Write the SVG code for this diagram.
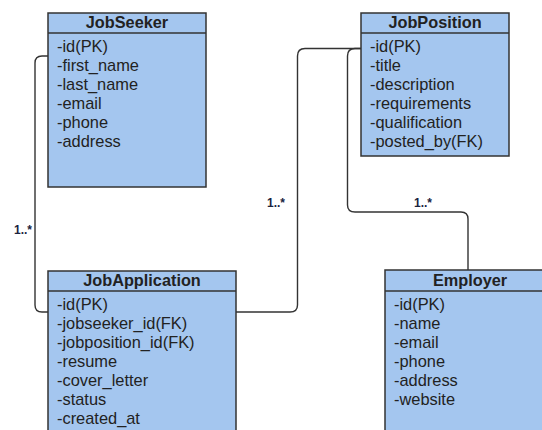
<svg xmlns="http://www.w3.org/2000/svg" width="542" height="430" viewBox="0 0 542 430">
<style>
.box{fill:#a4c6ef;stroke:#333;stroke-width:1.5}
.sep{stroke:#333;stroke-width:1.5}
.title{font-family:"Liberation Sans",Arial,sans-serif;font-size:16.3px;font-weight:bold;fill:#222;text-anchor:middle}
.row{font-family:"Liberation Sans",Arial,sans-serif;font-size:16.4px;fill:#222}
.conn{fill:none;stroke:#333;stroke-width:1.4}
.lbl{font-family:"Liberation Sans",Arial,sans-serif;font-size:12px;font-weight:bold;fill:#1a2340;text-anchor:middle}
</style>
<rect width="542" height="430" fill="#fff"/>
<g id="connectors">
<path class="conn" d="M48,56 H42 Q35,56 35,63 V305 Q35,312 42,312 H48"/>
<path class="conn" d="M236,312 H290 Q297.5,312 297.5,305 V56 Q297.5,48.5 305,48.5 H361"/>
<path class="conn" d="M361,48.5 H355 Q347.5,48.5 347.5,56 V205 Q347.5,212 355,212 H461 Q468,212 468,219 V270"/>
<text class="lbl" x="23" y="234">1..*</text>
<text class="lbl" x="276" y="207">1..*</text>
<text class="lbl" x="423" y="207">1..*</text>
</g>
<g id="JobSeeker">
<rect class="box" x="48" y="13" width="158" height="174"/>
<line class="sep" x1="48" y1="33" x2="206" y2="33"/>
<text class="title" x="127" y="28">JobSeeker</text>
<text class="row" x="57" y="52">-id(PK)</text>
<text class="row" x="57" y="71">-first_name</text>
<text class="row" x="57" y="90">-last_name</text>
<text class="row" x="57" y="109">-email</text>
<text class="row" x="57" y="128">-phone</text>
<text class="row" x="57" y="147">-address</text>
</g>
<g id="JobPosition">
<rect class="box" x="361" y="13" width="148" height="143"/>
<line class="sep" x1="361" y1="33" x2="509" y2="33"/>
<text class="title" x="435" y="28">JobPosition</text>
<text class="row" x="370" y="52">-id(PK)</text>
<text class="row" x="370" y="71">-title</text>
<text class="row" x="370" y="90">-description</text>
<text class="row" x="370" y="109">-requirements</text>
<text class="row" x="370" y="128">-qualification</text>
<text class="row" x="370" y="147">-posted_by(FK)</text>
</g>
<g id="JobApplication">
<rect class="box" x="48" y="271" width="188" height="175"/>
<line class="sep" x1="48" y1="291" x2="236" y2="291"/>
<text class="title" x="142" y="286">JobApplication</text>
<text class="row" x="57" y="310">-id(PK)</text>
<text class="row" x="57" y="329">-jobseeker_id(FK)</text>
<text class="row" x="57" y="348">-jobposition_id(FK)</text>
<text class="row" x="57" y="367">-resume</text>
<text class="row" x="57" y="386">-cover_letter</text>
<text class="row" x="57" y="405">-status</text>
<text class="row" x="57" y="424">-created_at</text>
</g>
<g id="Employer">
<rect class="box" x="385" y="270" width="170" height="175"/>
<line class="sep" x1="385" y1="291" x2="555" y2="291"/>
<text class="title" x="470" y="286">Employer</text>
<text class="row" x="394" y="310">-id(PK)</text>
<text class="row" x="394" y="329">-name</text>
<text class="row" x="394" y="348">-email</text>
<text class="row" x="394" y="367">-phone</text>
<text class="row" x="394" y="386">-address</text>
<text class="row" x="394" y="405">-website</text>
</g>
</svg>
